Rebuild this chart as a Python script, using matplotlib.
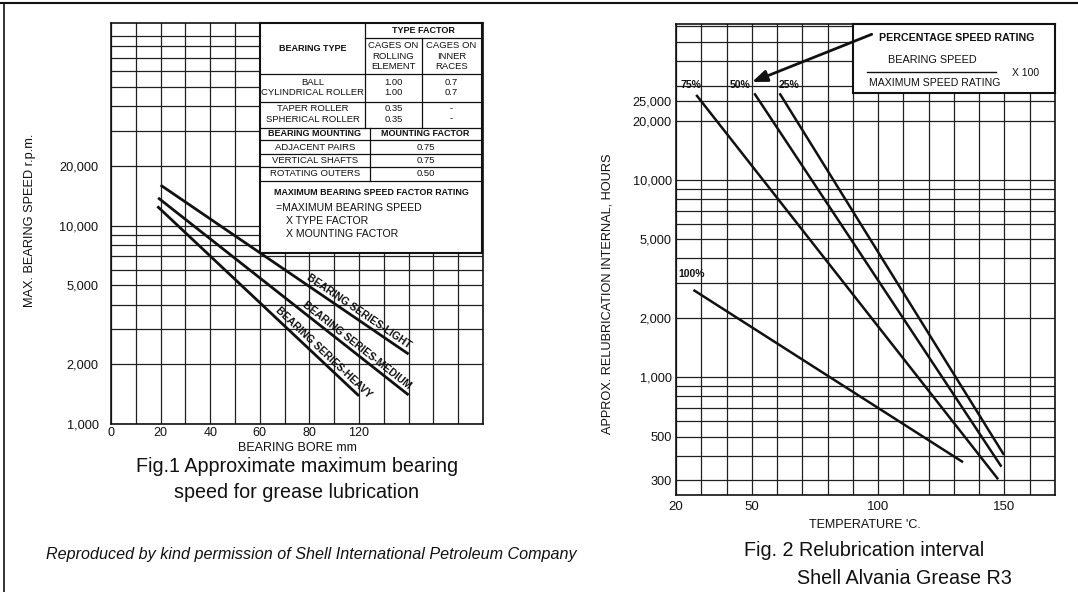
import numpy as np
import matplotlib.pyplot as plt
from matplotlib.ticker import FixedLocator, FixedFormatter, LogLocator, NullFormatter

W, H = 1078, 592

# Fig.1: maximum bearing speed against bore
bore_light = [20, 120]
speed_light = [16000, 2250]
bore_medium = [19, 120]
speed_medium = [13800, 1400]
bore_heavy = [18.7, 100]
speed_heavy = [12500, 1385]

bore_ticks = [0, 20, 40, 60, 80, 100]
bore_tick_labels = ['0', '20', '40', '60', '80', '120']
speed_ticks = [1000, 2000, 5000, 10000, 20000]
speed_tick_labels = ['1,000', '2,000', '5,000', '10,000', '20,000']

# factor table
bearing_types = ['BALL', 'CYLINDRICAL ROLLER', 'TAPER ROLLER', 'SPHERICAL ROLLER']
factor_rolling = ['1.00', '1.00', '0.35', '0.35']
factor_inner = ['0.7', '0.7', '-', '-']
mountings = ['ADJACENT PAIRS', 'VERTICAL SHAFTS', 'ROTATING OUTERS']
mounting_factors = ['0.75', '0.75', '0.50']

# Fig.2: relubrication interval against temperature
temp_100 = [26.9, 133.6]
hours_100 = [2770, 371]
temp_75 = [28, 147.5]
hours_75 = [27000, 304]
temp_50 = [51, 148.8]
hours_50 = [27500, 352]
temp_25 = [61, 149.8]
hours_25 = [27500, 404]

temp_ticks = [20, 50, 100, 150]
hours_ticks = [300, 500, 1000, 2000, 5000, 10000, 20000, 25000]
hours_tick_labels = ['300', '500', '1,000', '2,000', '5,000', '10,000', '20,000', '25,000']

plt.rcParams['font.family'] = ['Liberation Sans', 'DejaVu Sans']
INK = '#111111'

fig = plt.figure(figsize=(W / 100, H / 100), dpi=100)


def px_axes(x0, y0, x1, y1, **kw):
    return fig.add_axes([x0 / W, 1 - y1 / H, (x1 - x0) / W, (y1 - y0) / H], **kw)


def log_chart(ax, xlim, ylim, xt, xl, yt, yl, pad_x, pad_y, size_x, size_y):
    ax.set_yscale('log')
    ax.set_xlim(*xlim)
    ax.set_ylim(*ylim)
    ax.xaxis.set_major_locator(FixedLocator(xt))
    ax.xaxis.set_major_formatter(FixedFormatter(xl))
    ax.xaxis.set_minor_locator(FixedLocator(np.arange(xlim[0], xlim[1] + 1, 10)))
    ax.yaxis.set_major_locator(FixedLocator(yt))
    ax.yaxis.set_major_formatter(FixedFormatter(yl))
    ax.yaxis.set_minor_locator(LogLocator(base=10, subs=np.arange(2, 10)))
    ax.yaxis.set_minor_formatter(NullFormatter())
    ax.grid(which='both', color='#202020', lw=0.9)
    ax.tick_params(which='both', length=0, colors=INK)
    ax.tick_params(axis='x', pad=pad_x, labelsize=size_x)
    ax.tick_params(axis='y', pad=pad_y, labelsize=size_y)
    for s in ax.spines.values():
        s.set_linewidth(1.2)
        s.set_color(INK)


def line_label(ax, xs, ys, at_x, text):
    p0 = ax.transData.transform((xs[0], ys[0]))
    p1 = ax.transData.transform((xs[1], ys[1]))
    ang = np.degrees(np.arctan2(p1[1] - p0[1], p1[0] - p0[0]))
    y_at = ys[0] * (ys[1] / ys[0]) ** ((at_x - xs[0]) / (xs[1] - xs[0]))
    nx, ny = -np.sin(np.radians(ang)), np.cos(np.radians(ang))
    ax.annotate(text, (at_x, y_at), xytext=(1.5 * nx, 1.5 * ny), textcoords='offset points',
                rotation=ang, rotation_mode='anchor', ha='center', va='bottom',
                fontsize=7.5, fontweight='bold', color=INK)


def white_box(x0, y0, x1, y1):
    bx = px_axes(x0, y0, x1, y1, zorder=2)
    bx.set_xlim(x0, x1)
    bx.set_ylim(y1, y0)
    bx.set_xticks([])
    bx.set_yticks([])
    bx.set_facecolor('white')
    for s in bx.spines.values():
        s.set_linewidth(1.5)
        s.set_color(INK)
    return bx


# page layer: frame, captions, axis titles
page = fig.add_axes([0, 0, 1, 1], zorder=0)
page.set_xlim(0, W)
page.set_ylim(H, 0)
page.axis('off')
page.plot([0, W], [3, 3], color=INK, lw=1.5)
page.plot([4, 4], [3, H], color=INK, lw=1.2)

page.text(30, 220, 'MAX. BEARING SPEED r.p.m.', rotation=90, ha='center', va='center', fontsize=9.2, color=INK)
page.text(297, 448, 'BEARING BORE mm', ha='center', va='center', fontsize=9, color=INK)
page.text(297, 467, 'Fig.1 Approximate maximum bearing', ha='center', va='center', fontsize=14.2, color=INK)
page.text(297, 492, 'speed for grease lubrication', ha='center', va='center', fontsize=14.2, color=INK)
page.text(46, 555, 'Reproduced by kind permission of Shell International Petroleum Company',
          ha='left', va='center', fontsize=11.6, style='italic', color=INK)

page.text(608, 294, 'APPROX. RELUBRICATION INTERNAL, HOURS', rotation=90, ha='center', va='center',
          fontsize=9.2, color=INK)
page.text(865, 525, "TEMPERATURE 'C.", ha='center', va='center', fontsize=9, color=INK)
page.text(744, 551, 'Fig. 2 Relubrication interval', ha='left', va='center', fontsize=14.2, color=INK)
page.text(797, 578, 'Shell Alvania Grease R3', ha='left', va='center', fontsize=14.2, color=INK)

# Fig.1 chart
ax1 = px_axes(111, 23, 483, 424, zorder=1)
log_chart(ax1, (0, 150), (1000, 1.05e5), bore_ticks, bore_tick_labels,
          speed_ticks, speed_tick_labels, pad_x=2, pad_y=9, size_x=9, size_y=9.2)
for xs, ys in [(bore_light, speed_light), (bore_medium, speed_medium), (bore_heavy, speed_heavy)]:
    ax1.plot(xs, ys, color=INK, lw=2.0, solid_capstyle='butt')
line_label(ax1, bore_light, speed_light, 98.4, 'BEARING SERIES-LIGHT')
line_label(ax1, bore_medium, speed_medium, 97.2, 'BEARING SERIES-MEDIUM')
line_label(ax1, bore_heavy, speed_heavy, 83.7, 'BEARING SERIES-HEAVY')

# factor table over the top right of Fig.1
tb = white_box(260, 22.7, 482, 253)
lk = dict(color=INK, lw=0.9)
tb.plot([365, 365], [22.7, 127.7], **lk)
tb.plot([365, 482], [38.3, 38.3], **lk)
tb.plot([421.8, 421.8], [38.3, 127.7], **lk)
for yl in [74, 101.7, 127.7, 140, 154, 167.3, 180.7]:
    tb.plot([260, 482], [yl, yl], **lk)
tb.plot([370.2, 370.2], [127.7, 180.7], **lk)

tf = dict(ha='center', va='center', fontsize=6.8, color=INK)
hf = dict(ha='center', va='center', fontsize=6.5, fontweight='bold', color=INK)
tb.text(423.5, 30.7, 'TYPE FACTOR', **hf)
tb.text(312.7, 48.3, 'BEARING TYPE', **hf)
tb.text(393.4, 56, 'CAGES ON\nROLLING\nELEMENT', linespacing=1.25, **tf)
tb.text(451.6, 56, 'CAGES ON\nINNER\nRACES', linespacing=1.25, **tf)
for i, row_y in enumerate([82.3, 92.7, 108.3, 119]):
    tb.text(312.7, row_y, bearing_types[i], **tf)
    tb.text(393.4, row_y, factor_rolling[i], **tf)
    tb.text(451.6, row_y, factor_inner[i], **tf)
tb.text(314, 133.5, 'BEARING MOUNTING', **hf)
tb.text(425, 133.5, 'MOUNTING FACTOR', **hf)
for i, row_y in enumerate([147, 160.3, 173.5]):
    tb.text(315, row_y, mountings[i], **tf)
    tb.text(425.8, row_y, mounting_factors[i], **tf)
tb.text(274, 192.3, 'MAXIMUM BEARING SPEED FACTOR RATING', ha='left', va='center',
        fontsize=6.4, fontweight='bold', color=INK)
tb.text(276.5, 208, '=MAXIMUM BEARING SPEED', ha='left', va='center', fontsize=7.6, color=INK)
tb.text(286.5, 221, 'X TYPE FACTOR', ha='left', va='center', fontsize=7.6, color=INK)
tb.text(286.5, 234.3, 'X MOUNTING FACTOR', ha='left', va='center', fontsize=7.6, color=INK)

# Fig.2 chart
ax2 = px_axes(676, 24, 1055, 495, zorder=1)
log_chart(ax2, (20, 170), (253, 61750), temp_ticks, [str(t) for t in temp_ticks],
          hours_ticks, hours_tick_labels, pad_x=4, pad_y=3, size_x=9.5, size_y=9.2)
for xs, ys in [(temp_100, hours_100), (temp_75, hours_75), (temp_50, hours_50), (temp_25, hours_25)]:
    ax2.plot(xs, ys, color=INK, lw=1.8, solid_capstyle='butt')
pk = dict(ha='center', va='center', fontsize=7.5, fontweight='bold', color=INK)
ax2.text(25.9, 30300, '75%', **pk)
ax2.text(45.3, 30300, '50%', **pk)
ax2.text(64.7, 30300, '25%', **pk)
ax2.text(26.3, 3340, '100%', **pk)

# speed rating key with its arrow
kb = white_box(852.5, 24, 1055, 93.3)
kb.text(956.5, 38.3, 'PERCENTAGE SPEED RATING', ha='center', va='center', fontsize=7.7,
        fontweight='bold', color=INK)
kb.text(932, 60, 'BEARING SPEED', ha='center', va='center', fontsize=7.8, color=INK)
kb.plot([867, 996], [72.3, 72.3], color=INK, lw=1.0)
kb.text(934.5, 83.3, 'MAXIMUM SPEED RATING', ha='center', va='center', fontsize=7.6, color=INK)
kb.text(1025.5, 73.3, 'X 100', ha='center', va='center', fontsize=7.5, color=INK)
kb.annotate('', xy=(752, 82), xytext=(871.7, 34.3), annotation_clip=False,
            arrowprops=dict(arrowstyle='-|>,head_length=0.9,head_width=0.35', color=INK,
                            lw=2.0, shrinkA=0, shrinkB=0, clip_on=False))

fig.savefig('out.png', dpi=100, facecolor='white')
